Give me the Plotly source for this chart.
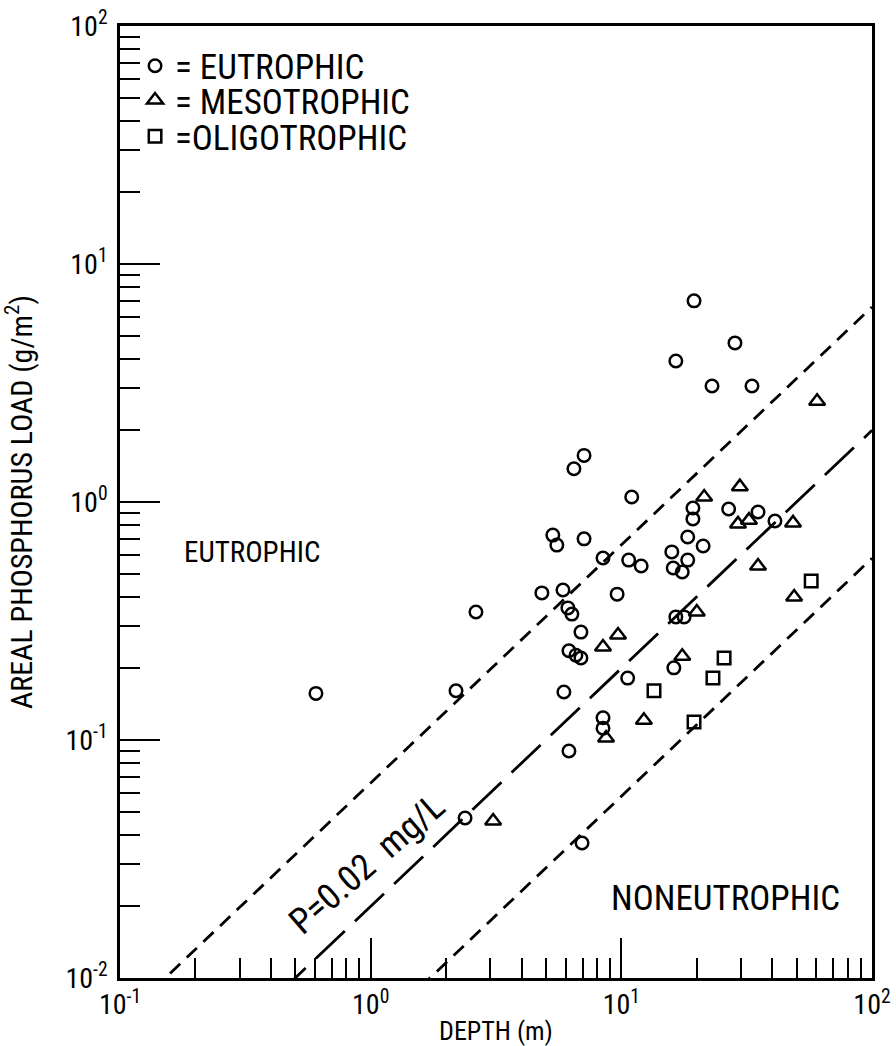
import plotly.graph_objects as go

# Mean depth (m) and areal phosphorus load (g/m^2) by trophic class
eu_depth = [0.605, 2.63, 2.19, 2.38, 6.97, 6.18, 5.90, 8.45, 8.45, 10.6,
            16.2, 16.5, 17.8, 6.90, 6.18, 6.59, 6.90, 4.82, 5.85, 6.12,
            6.35, 9.62, 5.53, 5.33, 7.10, 8.45, 10.7, 12.0, 15.9, 18.4,
            21.2, 18.4, 16.1, 17.5, 11.0, 7.10, 6.47, 19.3, 19.3, 26.8,
            35.1, 41.0, 19.5, 28.4, 16.5, 23.0, 33.2]
eu_load = [0.157, 0.345, 0.161, 0.047, 0.0369, 0.0899, 0.159, 0.124, 0.112, 0.182,
           0.201, 0.329, 0.329, 0.284, 0.237, 0.227, 0.221, 0.415, 0.427, 0.359,
           0.338, 0.410, 0.659, 0.726, 0.700, 0.582, 0.570, 0.538, 0.617, 0.713,
           0.653, 0.570, 0.528, 0.508, 1.05, 1.57, 1.38, 0.944, 0.849, 0.935,
           0.908, 0.832, 7.0, 4.66, 3.91, 3.07, 3.07]

meso_depth = [60.4, 29.7, 21.4, 29.2, 32.3, 48.4, 35.1, 48.9, 20.0, 9.70,
              8.45, 17.5, 12.3, 8.69, 3.08]
meso_load = [2.65, 1.16, 1.05, 0.809, 0.839, 0.817, 0.538, 0.399, 0.345, 0.276,
             0.246, 0.225, 0.121, 0.102, 0.0457]

oligo_depth = [57.2, 25.7, 23.2, 13.5, 19.5]
oligo_load = [0.466, 0.221, 0.182, 0.161, 0.119]

# Boundary lines: load = coefficient * depth
depth_span = [0.1, 100.0]
coef_upper = 0.066
coef_mid = 0.02
coef_lower = 0.0058

x_major = [0.1, 1, 10, 100]
x_labels = ["10<sup>-1</sup>", "10<sup>0</sup>", "10<sup>1</sup>", "10<sup>2</sup>"]
y_major = [0.01, 0.1, 1, 10, 100]
y_labels = ["10<sup>-2</sup>", "10<sup>-1</sup>", "10<sup>0</sup>", "10<sup>1</sup>", "10<sup>2</sup>"]
minor_vals = [m * 10.0 ** e for e in range(-2, 2) for m in range(2, 10)]

FONT = "Liberation Sans Narrow, Roboto Condensed, Liberation Sans, Arial, sans-serif"
INK = "black"

fig = go.Figure()

for coef, dash in [(coef_upper, "14px,9px"), (coef_mid, "40px,14px"), (coef_lower, "14px,9px")]:
    fig.add_trace(go.Scatter(
        x=depth_span, y=[coef * d for d in depth_span], mode="lines",
        line=dict(color=INK, width=2.8, dash=dash),
        showlegend=False, hoverinfo="skip"))

marker_line = dict(color=INK, width=2.5)
fig.add_trace(go.Scatter(
    x=eu_depth, y=eu_load, mode="markers", name="= EUTROPHIC", legend="legend",
    marker=dict(symbol="circle-open", size=12.5, color=INK, line=marker_line)))
fig.add_trace(go.Scatter(
    x=meso_depth, y=meso_load, mode="markers", name="= MESOTROPHIC", legend="legend2",
    marker=dict(symbol="triangle-up-open", size=14, color=INK, line=marker_line)))
fig.add_trace(go.Scatter(
    x=oligo_depth, y=oligo_load, mode="markers", name="=OLIGOTROPHIC", legend="legend3",
    marker=dict(symbol="square-open", size=12.5, color=INK, line=marker_line)))

legend_style = dict(
    x=0.02, xanchor="left", yanchor="middle", bgcolor="rgba(0,0,0,0)",
    borderwidth=0, font=dict(family=FONT, size=35, color=INK), itemwidth=30)

fig.update_layout(
    width=896, height=1046,
    margin=dict(l=120, r=24, t=26, b=68),
    paper_bgcolor="white", plot_bgcolor="white",
    font=dict(family=FONT, color=INK),
    legend=dict(y=0.958, **legend_style),
    legend2=dict(y=0.922, **legend_style),
    legend3=dict(y=0.884, **legend_style),
)

axis_common = dict(
    type="log", tickmode="array", ticks="inside", ticklen=40, tickwidth=2,
    tickcolor=INK, showline=True, linewidth=2.5, linecolor=INK, mirror=True,
    showgrid=False, zeroline=False, automargin=False,
    tickfont=dict(family=FONT, size=28, color=INK),
    minor=dict(tickmode="array", tickvals=minor_vals, ticks="inside",
               ticklen=20, tickwidth=2, tickcolor=INK, showgrid=False),
)

fig.update_xaxes(range=[-1, 2], tickvals=x_major, ticktext=x_labels,
                 title=dict(text="DEPTH (m)", font=dict(family=FONT, size=26, color=INK), standoff=6),
                 **axis_common)
fig.update_yaxes(range=[-2, 2], tickvals=y_major, ticktext=y_labels, ticklabelstandoff=4,
                 title=dict(text="AREAL PHOSPHORUS LOAD (g/m<sup>2</sup>)",
                            font=dict(family=FONT, size=30, color=INK), standoff=34),
                 **axis_common)

label_common = dict(xref="paper", yref="paper", showarrow=False,
                    xanchor="center", yanchor="middle")
fig.add_annotation(text="EUTROPHIC", x=(252 - 120) / 752, y=(978 - 552) / 952,
                   font=dict(family=FONT, size=29, color=INK), **label_common)
fig.add_annotation(text="NONEUTROPHIC", x=(725 - 120) / 752, y=(978 - 898) / 952,
                   font=dict(family=FONT, size=35, color=INK), **label_common)
fig.add_annotation(text="P=0.02  mg/L", x=(367 - 120) / 752, y=(978 - 864) / 952,
                   textangle=-41, font=dict(family=FONT, size=36, color=INK), **label_common)

fig.write_html("out.html")
